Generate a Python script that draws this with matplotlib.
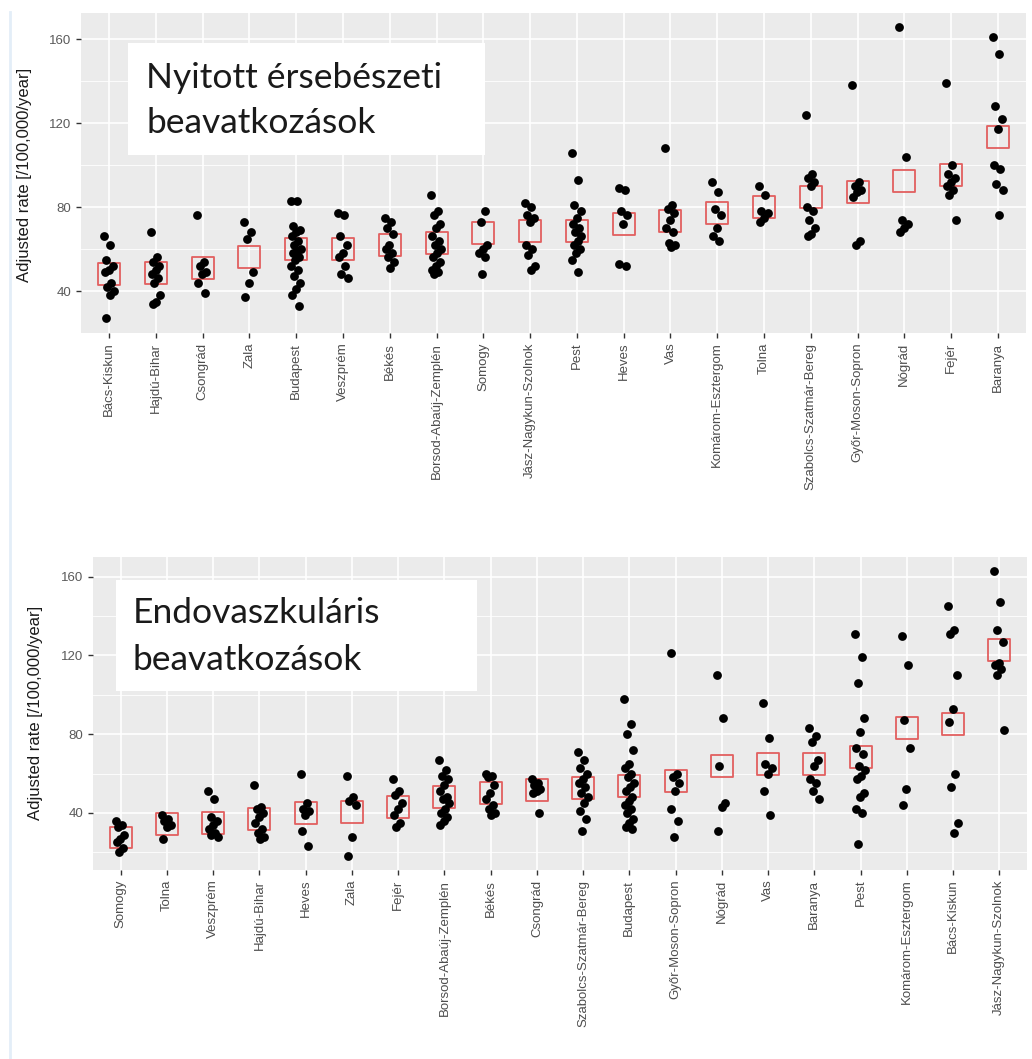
import numpy as np
import matplotlib.pyplot as plt
from matplotlib.patches import Rectangle
from matplotlib.lines import Line2D

plt.rcParams['font.family'] = ['Liberation Sans', 'DejaVu Sans']

# --- felső panel: nyitott érsebészeti beavatkozások ---
open_counties = ['Bács-Kiskun', 'Hajdú-Bihar', 'Csongrád', 'Zala', 'Budapest', 'Veszprém',
                 'Békés', 'Borsod-Abaúj-Zemplén', 'Somogy', 'Jász-Nagykun-Szolnok', 'Pest',
                 'Heves', 'Vas', 'Komárom-Esztergom', 'Tolna', 'Szabolcs-Szatmár-Bereg',
                 'Győr-Moson-Sopron', 'Nógrád', 'Fejér', 'Baranya']
open_rates = [48, 48.6, 51, 56, 60, 60, 62, 63, 67.5, 68.5, 68.5, 72, 73.5, 77, 80,
              85, 87, 92.5, 95.5, 113.5]
open_points = [
    [66, 62, 55, 52, 50, 49, 44, 42, 40, 38, 27],
    [68, 56, 54, 52, 50, 48, 46, 44, 38, 35, 34],
    [76, 54, 52, 49, 48, 44, 39],
    [73, 68, 65, 49, 44, 37],
    [83, 83, 71, 69, 68, 66, 64, 62, 60, 59, 58, 56, 55, 52, 50, 47, 44, 41, 38, 33],
    [77, 76, 66, 62, 58, 56, 52, 48, 46],
    [75, 73, 70, 67, 62, 60, 58, 56, 54, 51],
    [86, 78, 76, 72, 70, 66, 64, 62, 60, 58, 56, 54, 52, 50, 49, 48],
    [108, 78, 73, 62, 60, 58, 56, 48],
    [82, 80, 76, 75, 73, 62, 60, 57, 52, 50],
    [106, 93, 81, 78, 75, 72, 70, 68, 66, 64, 62, 60, 58, 55, 49],
    [89, 88, 78, 76, 72, 53, 52],
    [108, 81, 79, 77, 74, 70, 68, 63, 62, 61],
    [92, 87, 79, 76, 70, 66, 64],
    [90, 86, 78, 77, 75, 73],
    [124, 96, 94, 92, 90, 80, 78, 74, 70, 67, 66],
    [138, 92, 90, 88, 87, 85, 64, 62],
    [166, 104, 74, 72, 70, 68],
    [139, 100, 96, 94, 92, 90, 88, 86, 74],
    [161, 153, 128, 122, 117, 100, 98, 91, 88, 76],
]

# --- alsó panel: endovaszkuláris beavatkozások ---
endo_counties = ['Somogy', 'Tolna', 'Veszprém', 'Hajdú-Bihar', 'Heves', 'Zala', 'Fejér',
                 'Borsod-Abaúj-Zemplén', 'Békés', 'Csongrád', 'Szabolcs-Szatmár-Bereg',
                 'Budapest', 'Győr-Moson-Sopron', 'Nógrád', 'Vas', 'Baranya', 'Pest',
                 'Komárom-Esztergom', 'Bács-Kiskun', 'Jász-Nagykun-Szolnok']
endo_rates = [27.5, 34.5, 35, 37, 40, 40.5, 43, 48, 50, 51.5, 52.5, 53.5, 56, 64, 65,
              65, 68.5, 83, 85, 123]
endo_points = [
    [36, 34, 33, 29, 27, 25, 22, 20],
    [39, 37, 36, 34, 33, 27],
    [51, 47, 38, 36, 34, 32, 30, 29, 28],
    [54, 43, 42, 40, 38, 35, 32, 30, 28, 27],
    [60, 45, 42, 41, 39, 31, 23],
    [59, 48, 46, 44, 28, 18],
    [57, 51, 49, 45, 42, 39, 35, 33],
    [67, 62, 59, 57, 54, 51, 48, 47, 45, 42, 40, 38, 36, 34],
    [60, 59, 58, 54, 50, 47, 44, 42, 40, 39],
    [57, 55, 54, 52, 51, 50, 40],
    [71, 67, 63, 60, 57, 55, 53, 50, 48, 45, 41, 37, 31],
    [98, 85, 80, 72, 65, 63, 60, 58, 55, 53, 51, 48, 46, 44, 42, 40, 37, 35, 33, 32],
    [121, 60, 58, 55, 51, 42, 36, 28],
    [110, 88, 64, 45, 43, 31],
    [96, 78, 65, 63, 60, 51, 39],
    [83, 79, 76, 67, 64, 57, 55, 51, 47],
    [131, 119, 106, 88, 81, 73, 70, 64, 62, 59, 57, 50, 48, 42, 40, 24],
    [130, 115, 87, 73, 52, 44],
    [145, 133, 131, 110, 93, 86, 60, 53, 35, 30],
    [163, 147, 133, 127, 116, 115, 113, 110, 82],
]

W, H = 1032, 1059


def px_axes(left, top, right, bottom):
    return [left / W, 1 - bottom / H, (right - left) / W, (bottom - top) / H]


def draw_panel(ax, counties, rates, points, ylim):
    ax.set_facecolor('#EBEBEB')
    for i, pts in enumerate(points):
        k = np.arange(len(pts))
        offs = ((k * 0.618) % 1 - 0.5) * 0.22
        ax.scatter(i + offs, pts, s=40, c='black', linewidths=0, zorder=3)
    ax.scatter(np.arange(len(rates)), rates, marker='s', s=250, facecolors='none',
               edgecolors='#E25F5F', linewidths=1.3, zorder=2)
    ax.set_xlim(-0.6, len(counties) - 0.4)
    ax.set_ylim(*ylim)
    ax.set_xticks(np.arange(len(counties)))
    ax.set_xticklabels(counties, rotation=90, fontsize=9.5, color='#4D4D4D')
    ax.set_yticks([40, 80, 120, 160])
    ax.set_yticks([20, 60, 100, 140], minor=True)
    ax.tick_params(axis='y', labelsize=9.5, labelcolor='#5A5A5A')
    ax.tick_params(which='major', length=3.5, width=1, color='#333333')
    ax.tick_params(which='minor', length=0)
    ax.grid(which='major', color='white', linewidth=1.2)
    ax.grid(which='minor', axis='y', color='white', linewidth=0.6)
    ax.set_axisbelow(True)
    for s in ax.spines.values():
        s.set_visible(False)
    ax.set_ylabel('Adjusted rate [/100,000/year]', fontsize=12, color='#1A1A1A')


fig = plt.figure(figsize=(W / 100, H / 100), dpi=100)
fig.add_artist(Line2D([10 / W, 10 / W], [0, 1 - 12 / H], color='#E3EEF8', linewidth=2))

ax1 = fig.add_axes(px_axes(81, 13, 1026, 333))
draw_panel(ax1, open_counties, open_rates, open_points, (20, 172.5))
ax1.yaxis.set_label_coords(-0.052, 0.494)
ax1.add_patch(Rectangle((0.0497, 0.556), 0.378, 0.35, transform=ax1.transAxes,
                        facecolor='white', edgecolor='none', zorder=5))
ax1.text(0.069, 0.7656, 'Nyitott érsebészeti', transform=ax1.transAxes, fontsize=25.5,
         family=['Lato', 'DejaVu Sans'], color='#1A1A1A', va='baseline', zorder=6)
ax1.text(0.069, 0.625, 'beavatkozások', transform=ax1.transAxes, fontsize=25.5,
         family=['Lato', 'DejaVu Sans'], color='#1A1A1A', va='baseline', zorder=6)

ax2 = fig.add_axes(px_axes(93, 557, 1027, 870))
draw_panel(ax2, endo_counties, endo_rates, endo_points, (11, 170))
ax2.yaxis.set_label_coords(-0.054, 0.503)
ax2.add_patch(Rectangle((0.0246, 0.572), 0.386, 0.355, transform=ax2.transAxes,
                        facecolor='white', edgecolor='none', zorder=5))
ax2.text(0.0428, 0.789, 'Endovaszkuláris', transform=ax2.transAxes, fontsize=25.5,
         family=['Lato', 'DejaVu Sans'], color='#1A1A1A', va='baseline', zorder=6)
ax2.text(0.0428, 0.639, 'beavatkozások', transform=ax2.transAxes, fontsize=25.5,
         family=['Lato', 'DejaVu Sans'], color='#1A1A1A', va='baseline', zorder=6)

fig.savefig('out.png', dpi=100)
